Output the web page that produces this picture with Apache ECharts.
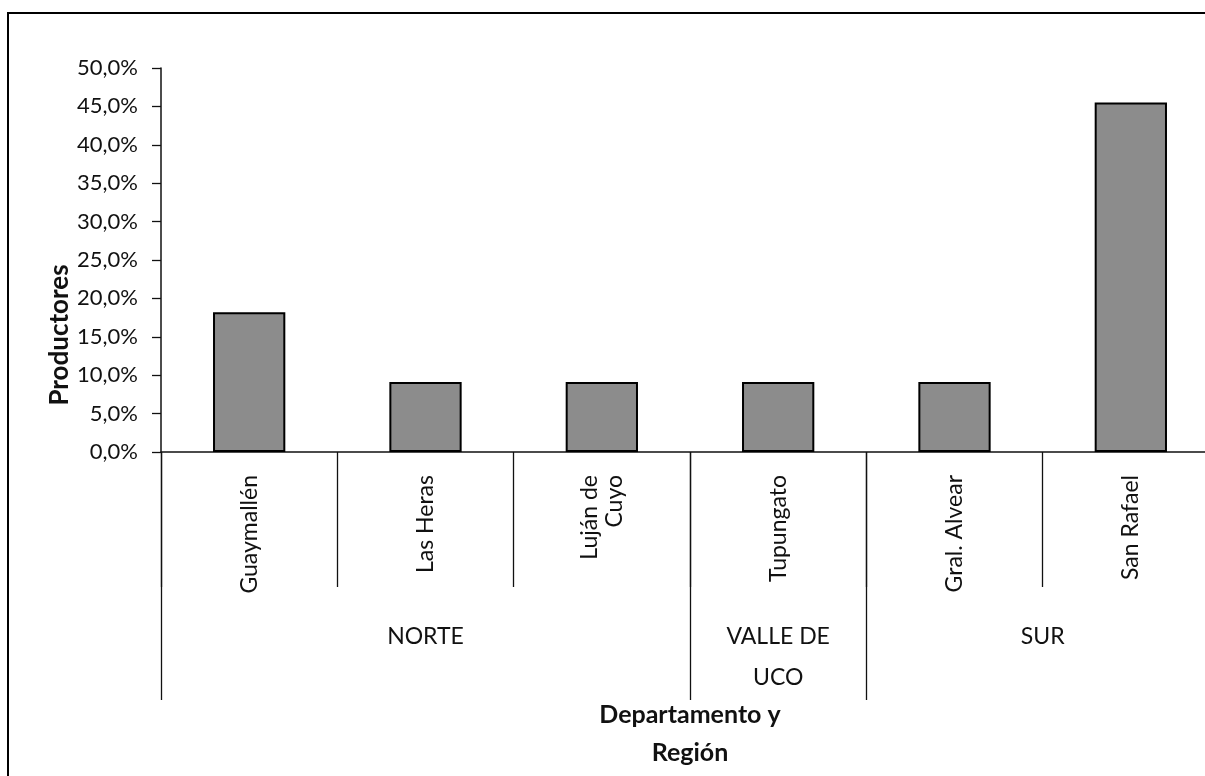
<!DOCTYPE html>
<html>
<head>
<meta charset="utf-8">
<script src="https://cdn.jsdelivr.net/npm/echarts@6/dist/echarts.min.js"></script>
<style>
  html, body { margin: 0; padding: 0; background: #fff; overflow: hidden; }
  #wrap { position: relative; width: 1205px; height: 776px; overflow: hidden; background: #fff; }
  #frame { position: absolute; left: 7px; top: 12px; width: 1300px; height: 900px; border-left: 2.5px solid #000; border-top: 2.5px solid #000; box-sizing: border-box; }
  #chart { position: absolute; left: 0; top: 0; width: 1205px; height: 776px; }
</style>
</head>
<body>
<div id="wrap"><div id="frame"></div><div id="chart"></div></div>
<script>
// ---- data ----
const departments = ['Guaymallén', 'Las Heras', 'Luján de\nCuyo', 'Tupungato', 'Gral. Alvear', 'San Rafael'];
const productores = [18.2, 9.1, 9.1, 9.1, 9.1, 45.5];
const regionNames = ['NORTE', 'VALLE DE\nUCO', 'SUR'];
const regionSizes = [3, 1, 2];
const yTicks = [0, 5, 10, 15, 20, 25, 30, 35, 40, 45, 50];

// derived region boundaries / centers (in category units)
const regionBounds = [0];
const regionCenters = [];
regionSizes.forEach(function (n, i) {
  const start = regionBounds[i];
  regionBounds.push(start + n);
  regionCenters.push(start + n / 2);
});

const FONT = 'Lato';
const chart = echarts.init(document.getElementById('chart'));
chart.setOption({
  animation: false,
  backgroundColor: 'transparent',
  textStyle: { fontFamily: FONT },
  grid: { left: 161, top: 68, width: 1058, bottom: 324, containLabel: false, outerBoundsMode: 'none' },
  xAxis: [{
    type: 'category',
    data: departments,
    position: 'bottom',
    axisLine: { show: true, lineStyle: { color: '#111', width: 1.5 } },
    axisTick: { show: true, length: 135, lineStyle: { color: '#111', width: 1.3 } },
    axisLabel: { rotate: 90, margin: 23, fontSize: 23, color: '#111', fontFamily: FONT, interval: 0, lineHeight: 25 },
    splitLine: { show: false }
  }, {
    type: 'value',
    position: 'bottom',
    min: 0, max: departments.length,
    axisLine: { show: false },
    splitLine: { show: false },
    axisTick: { show: true, length: 248, customValues: regionBounds, lineStyle: { color: '#111', width: 1.3 } },
    axisLabel: {
      show: true, customValues: regionCenters, margin: 164, fontSize: 23, lineHeight: 41,
      color: '#111', fontFamily: FONT,
      formatter: function (v) { return regionNames[regionCenters.indexOf(v)] || ''; }
    },
    name: 'Departamento y\nRegión',
    nameLocation: 'middle',
    nameGap: 244,
    nameMoveOverlap: false,
    nameTextStyle: { fontSize: 25, fontWeight: 'bold', color: '#111', lineHeight: 38, fontFamily: FONT }
  }],
  yAxis: {
    type: 'value',
    min: 0, max: 50, interval: 5,
    axisLine: { show: true, lineStyle: { color: '#111', width: 1.5 } },
    axisTick: { show: true, inside: false, length: 9, lineStyle: { color: '#111', width: 1.3 } },
    splitLine: { show: false },
    axisLabel: {
      margin: 23, fontSize: 22, color: '#111', fontFamily: FONT,
      formatter: function (v) { return v.toFixed(1).replace('.', ',') + '%'; }
    },
    name: 'Productores',
    nameLocation: 'middle',
    nameGap: 88,
    nameMoveOverlap: false,
    nameTextStyle: { fontSize: 26, fontWeight: 'bold', color: '#111', fontFamily: FONT, padding: [0, 150, 0, 0] }
  },
  series: [{
    type: 'bar',
    data: productores,
    barWidth: '41%',
    itemStyle: { color: '#8c8c8c', borderColor: '#000', borderWidth: 2 }
  }]
});
</script>
</body>
</html>
